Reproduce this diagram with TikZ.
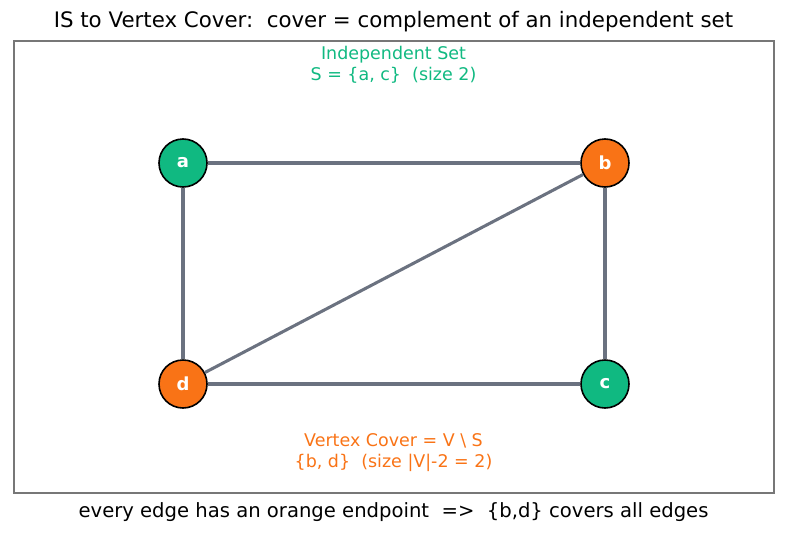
\documentclass[tikz,border=0pt]{standalone}
\usepackage{fontspec}
\setmainfont{DejaVu Sans}
\definecolor{isgreen}{HTML}{10B981}
\definecolor{vcorange}{HTML}{F97316}
\definecolor{edgegray}{HTML}{6B7280}
\definecolor{framegray}{HTML}{777777}
\tikzset{
	vert/.style={circle, draw=black, line width=1.2pt, minimum size=36pt, inner sep=0pt,
		text=white, font=\fontsize{13.5}{15}\selectfont\bfseries},
	edge/.style={draw=edgegray, line width=2.3pt}
}

\begin{document}
\begin{tikzpicture}[x=0.75pt, y=-0.75pt]
	\useasboundingbox (0,0) rectangle (787,535);
	\draw[framegray, line width=1pt] (14,41) rectangle (774,493);
	\node (title) at (393.5,22){\fontsize{16}{19}\selectfont IS to Vertex Cover:\ \ cover = complement of an independent set};
	\node (caption) at (393.5,512.5){\fontsize{14.7}{17}\selectfont every edge has an orange endpoint\ \ =>\ \ \{b,d\} covers all edges};
	% vertices
	\node[vert, fill=isgreen] (a) at (183,163){a};
	\node[vert, fill=vcorange] (b) at (605,163){b};
	\node[vert, fill=isgreen] (c) at (605,384){c};
	\node[vert, fill=vcorange] (d) at (183,384){d};
	% edges
	\draw[edge] (a) -- (b);
	\draw[edge] (a) -- (d);
	\draw[edge] (b) -- (c);
	\draw[edge] (b) -- (d);
	\draw[edge] (d) -- (c);
	% sets
	\node[text=isgreen, align=center, font=\fontsize{13.1}{15.8}\selectfont] (indset) at (393.5,65){Independent Set\\S = \{a, c\}\ \ (size 2)};
	\node[text=vcorange, align=center, font=\fontsize{13.1}{15.8}\selectfont] (cover) at (393.5,452.5){Vertex Cover = V \textbackslash\ S\\\{b, d\}\ \ (size |V|-2 = 2)};
\end{tikzpicture}
\end{document}
